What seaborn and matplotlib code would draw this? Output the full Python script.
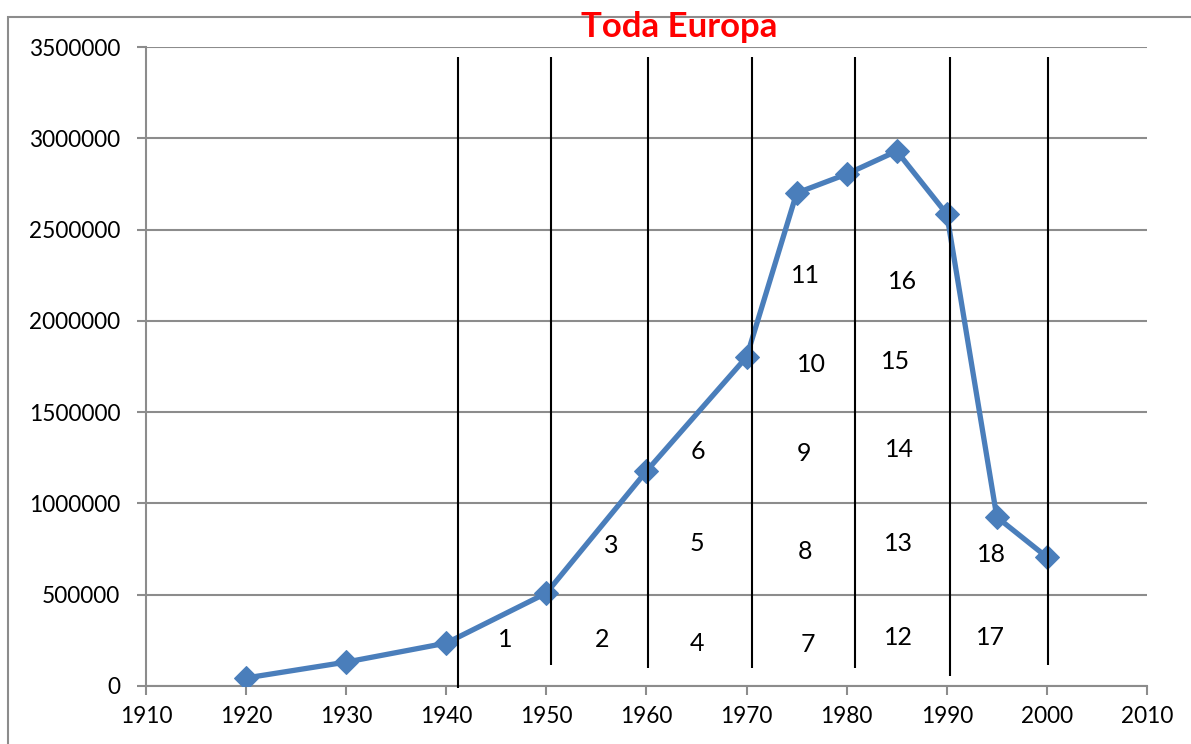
import matplotlib
matplotlib.use("Agg")
import matplotlib.pyplot as plt
import seaborn as sns
import pandas as pd
from matplotlib.patches import Rectangle
from matplotlib.ticker import FuncFormatter

# data
years = [1920, 1930, 1940, 1950, 1960, 1970, 1975, 1980, 1985, 1990, 1995, 2000]
values = [44000, 131000, 235000, 509000, 1177000, 1802000,
          2700000, 2804000, 2930000, 2585000, 925000, 706000]

# hand-drawn separator lines (x position, bottom, top)
sep_x = [1941.2, 1950.5, 1960.1, 1970.5, 1980.8, 1990.3, 2000.1]
sep_bottom = [-11000, 115000, 98000, 98000, 98000, 55000, 115000]
sep_top = [3445000] * 7

# numbered labels
lab_text = [str(i) for i in range(1, 19)]
lab_x = [1945.9, 1955.6, 1956.5, 1965.0, 1965.0, 1965.1, 1976.1, 1975.8, 1975.7,
         1976.5, 1975.9, 1985.2, 1985.2, 1985.3, 1984.9, 1985.6, 1994.4, 1994.5]
lab_y = [252000, 252000, 767000, 235000, 783000, 1287000, 230000, 734000, 1276000,
         1763000, 2250000, 263000, 783000, 1298000, 1780000, 2218000, 263000, 723000]

sns.set_style("white")
plt.rcParams['font.family'] = ['Lato', 'DejaVu Sans']

df = pd.DataFrame({"year": years, "value": values})

fig = plt.figure(figsize=(11.91, 7.44), dpi=100)
ax = fig.add_axes([146 / 1191, 58 / 744, 1001 / 1191, 639 / 744])

# outer chart border
fig.patches.append(Rectangle((8 / 1191, -0.1), 1.2, (744 - 17) / 744 + 0.1,
                             transform=fig.transFigure, fill=False,
                             edgecolor="#8c8c8c", linewidth=1.5))

ax.set_xlim(1910, 2010)
ax.set_ylim(0, 3500000)
ax.set_xticks(range(1910, 2011, 10))
ax.set_yticks(range(0, 3500001, 500000))
ax.yaxis.set_major_formatter(FuncFormatter(lambda v, p: f"{int(round(v))}"))
ax.yaxis.grid(True, color="#8c8c8c", linewidth=1.5)
ax.xaxis.grid(False)
ax.set_axisbelow(True)

sns.lineplot(data=df, x="year", y="value", ax=ax, color="#4a7ebb",
             linewidth=3.8, marker="D", markersize=12, markeredgecolor="#4a7ebb",
             zorder=3)

ax.vlines(sep_x, sep_bottom, sep_top, colors="black", linewidth=1.5,
          zorder=4, clip_on=False)

for t, x, y in zip(lab_text, lab_x, lab_y):
    ax.text(x, y, t, ha="center", va="center", fontsize=18, color="black")

for s in ["top", "right"]:
    ax.spines[s].set_visible(False)
for s in ["left", "bottom"]:
    ax.spines[s].set_color("#8c8c8c")
    ax.spines[s].set_linewidth(1.5)

ax.tick_params(axis="both", direction="out", length=6.5, width=1.5,
               color="#8c8c8c", labelsize=16.3, labelcolor="black")
ax.tick_params(axis="x", pad=8, bottom=True)
ax.tick_params(axis="y", pad=12, left=True)
ax.set_xlabel("")
ax.set_ylabel("")

fig.text(679 / 1191, 1 - 27 / 744, "Toda Europa", ha="center", va="center",
         fontsize=25, fontweight="bold", color="#ff0000")

fig.savefig("out.png", dpi=100)
